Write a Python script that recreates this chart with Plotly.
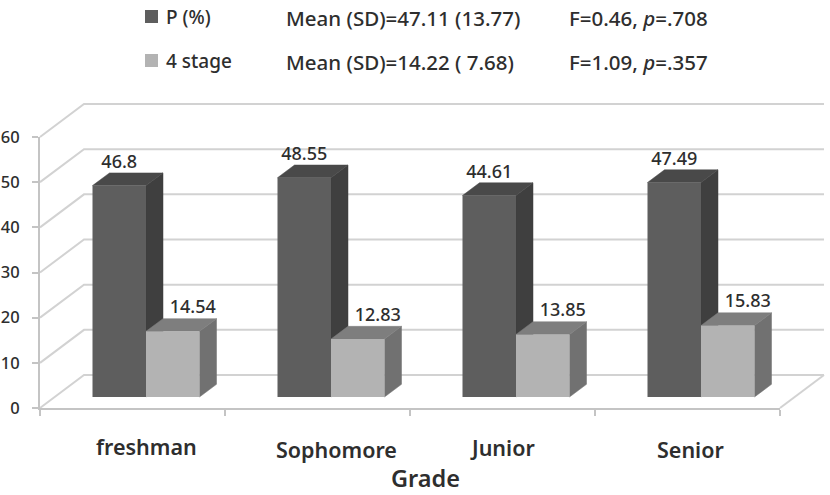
import plotly.graph_objects as go

# Values
grades = ["freshman", "Sophomore", "Junior", "Senior"]
p_percent = [46.8, 48.55, 44.61, 47.49]
stage_four = [14.54, 12.83, 13.85, 15.83]
value_ticks = [0, 10, 20, 30, 40, 50, 60]
legend_names = ["P (%)", "4 stage"]
legend_stats = ["Mean (SD)=47.11 (13.77)", "Mean (SD)=14.22 ( 7.68)"]
legend_tests = ["F=0.46, <i>p</i>=.708", "F=1.09, <i>p</i>=.357"]

# Canvas and plane geometry in pixels
W, H = 830, 495
LEFT, RIGHT, BOTTOM, TOP = 40, 780, 408, 137
PX_X = (RIGHT - LEFT) / len(grades)
PX_Y = (BOTTOM - TOP) / 60

# Offsets that fake the depth of the box, converted to data units
WALL_DX, WALL_DY = 44 / PX_X, 33 / PX_Y
BAR_PLANE_PX = (13.5, 11)
BAR_DX, BAR_DY = BAR_PLANE_PX[0] / PX_X, BAR_PLANE_PX[1] / PX_Y
DEPTH_DX, DEPTH_DY = 17 / PX_X, 12.7 / PX_Y
BAR_W = 53.5 / PX_X

# The box subplot is larger than the front plane so its lines are not clipped
BOX_L, BOX_R, BOX_B, BOX_T = 36, 830, 412, 95

FRONT = {"dark": "#5e5e5e", "light": "#b3b3b3"}
SIDE = {"dark": "#3f3f3f", "light": "#717171"}
CAP = {"dark": "#494949", "light": "#7e7e7e"}
GRID = "#d2d2d2"
AXIS = "#c4c4c4"
INK = "#2e2e2e"
FONT = "Noto Sans"

fig = go.Figure()

# Back wall, side wall and floor
x0, x1 = -0.5, len(grades) - 0.5
wall_x, wall_y = [], []
for v in value_ticks:
    wall_x += [x0, x0 + WALL_DX, x1 + WALL_DX, None]
    wall_y += [v, v + WALL_DY, v + WALL_DY, None]
wall_x += [x1, x1 + WALL_DX, None]
wall_y += [0, WALL_DY, None]
fig.add_trace(go.Scatter(x=wall_x, y=wall_y, mode="lines",
                         line=dict(color=GRID, width=2), hoverinfo="skip", showlegend=False))


def add_face(xs, ys, color):
    fig.add_trace(go.Scatter(x=xs, y=ys, mode="lines", fill="toself", fillcolor=color,
                             line=dict(color=color, width=0.5),
                             hoverinfo="skip", showlegend=False))


# Side and top faces; the dark pair goes first so the light box sits over it
for i in range(len(grades)):
    for tone, values, left in (("dark", p_percent, -BAR_W), ("light", stage_four, 0)):
        v = values[i]
        l = i + left + BAR_DX
        r = l + BAR_W
        b = BAR_DY
        t = v + BAR_DY
        add_face([r, r, r + DEPTH_DX, r + DEPTH_DX, r],
                 [b, t, t + DEPTH_DY, b + DEPTH_DY, b], SIDE[tone])
        add_face([l, r, r + DEPTH_DX, l + DEPTH_DX, l],
                 [t, t, t + DEPTH_DY, t + DEPTH_DY, t], CAP[tone])

# Front faces live on a second pair of axes, shifted to the bars' depth
positions = list(range(len(grades)))
fig.add_trace(go.Bar(x=positions, y=p_percent, width=BAR_W, offset=-BAR_W, name=legend_names[0],
                     marker=dict(color=FRONT["dark"], line=dict(width=0)),
                     xaxis="x2", yaxis="y2", cliponaxis=False, showlegend=False))
fig.add_trace(go.Bar(x=positions, y=stage_four, width=BAR_W, offset=0, name=legend_names[1],
                     marker=dict(color=FRONT["light"], line=dict(width=0)),
                     xaxis="x2", yaxis="y2", cliponaxis=False, showlegend=False))

# Value labels above each box
label_font = dict(family=FONT, size=18, color=INK, weight=500)
fig.add_trace(go.Scatter(x=[p - BAR_W / 2 for p in positions],
                         y=[v + 22 / PX_Y for v in p_percent],
                         text=[str(v) for v in p_percent], mode="text", textfont=label_font,
                         xaxis="x2", yaxis="y2", cliponaxis=False, hoverinfo="skip", showlegend=False))
fig.add_trace(go.Scatter(x=[p + BAR_W / 2 + 20 / PX_X for p in positions],
                         y=[v + 23 / PX_Y for v in stage_four],
                         text=[f"{v:.2f}" for v in stage_four], mode="text", textfont=label_font,
                         xaxis="x2", yaxis="y2", cliponaxis=False, hoverinfo="skip", showlegend=False))

# Empty trace that brings up the visible front axes
fig.add_trace(go.Scatter(x=[None], y=[None], xaxis="x3", yaxis="y3", mode="lines",
                         hoverinfo="skip", showlegend=False))


def px(x):
    return x / W


def py(y):
    return (H - y) / H


annotations = []


def note(text, x, y, size, anchor="left", weight=500):
    annotations.append(dict(text=text, x=px(x), y=py(y), xref="paper", yref="paper",
                            xanchor=anchor, yanchor="middle", showarrow=False,
                            font=dict(family=FONT, size=size, color=INK, weight=weight)))


# Legend block with the summary statistics
shapes = []
rows = [17, 61]
tones = ["dark", "light"]
for row, tone, name, stat, test in zip(rows, tones, legend_names, legend_stats, legend_tests):
    shapes.append(dict(type="rect", xref="paper", yref="paper", x0=px(145), x1=px(158),
                       y0=py(row + 6), y1=py(row - 7), fillcolor=FRONT[tone], line=dict(width=0)))
    note(name, 164, row, 19)
    note(stat, 284, row + 1, 20.5)
    note(test, 567, row + 1, 20.5)

# Category labels and axis title
label_x = [146, 336, 502, 690]
label_y = [446, 449, 447, 449]
for name, lx, ly in zip(grades, label_x, label_y):
    note(name, lx, ly, 21.5, anchor="center", weight=600)
note("Grade", 425, 478, 23.5, anchor="center", weight=600)

boundaries = [i - 0.5 for i in range(len(grades) + 1)]
fig.update_layout(
    width=W, height=H, margin=dict(l=0, r=0, t=0, b=0, autoexpand=False),
    paper_bgcolor="white", plot_bgcolor="rgba(0,0,0,0)",
    barmode="overlay", showlegend=False, shapes=shapes, annotations=annotations,
    xaxis=dict(domain=[px(BOX_L), px(BOX_R)],
               range=[x0 + (BOX_L - LEFT) / PX_X, x0 + (BOX_R - LEFT) / PX_X],
               visible=False),
    yaxis=dict(domain=[py(BOX_B), py(BOX_T)],
               range=[(BOTTOM - BOX_B) / PX_Y, (BOTTOM - BOX_T) / PX_Y],
               visible=False),
    xaxis2=dict(domain=[px(LEFT + BAR_PLANE_PX[0]), px(RIGHT + BAR_PLANE_PX[0])], range=[x0, x1],
                visible=False, anchor="y2"),
    yaxis2=dict(domain=[py(BOTTOM - BAR_PLANE_PX[1]), py(TOP - BAR_PLANE_PX[1])], range=[0, 60],
                visible=False, anchor="x2"),
    xaxis3=dict(domain=[px(LEFT), px(RIGHT)], range=[x0, x1], tickvals=boundaries, anchor="y3",
                ticks="outside", ticklen=6, tickcolor=AXIS, tickwidth=2, showticklabels=False,
                showline=True, linecolor=AXIS, linewidth=2, showgrid=False, zeroline=False),
    yaxis3=dict(domain=[py(BOTTOM), py(TOP)], range=[0, 60], tickvals=value_ticks, anchor="x3",
                ticks="outside", ticklen=6, tickcolor=AXIS, tickwidth=2,
                showline=True, linecolor=AXIS, linewidth=2, showgrid=False, zeroline=False,
                ticklabelstandoff=9,
                tickfont=dict(family=FONT, size=16.5, color=INK, weight=500)),
)

fig.write_html("out.html")
